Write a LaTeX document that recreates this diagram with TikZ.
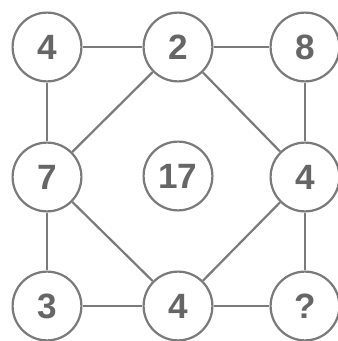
\documentclass[tikz,border=0pt]{standalone}
\usepackage{fontspec}
\setsansfont{Liberation Sans}
\usetikzlibrary{positioning}
\definecolor{ringgray}{HTML}{7A7A7A}
\definecolor{numgray}{HTML}{666666}

\begin{document}
\begin{tikzpicture}[x=0.025cm,y=-0.025cm,line width=0.55mm,
    num/.style={circle,draw=ringgray,fill=white,minimum size=1.72cm,inner sep=0pt,
      text=numgray,font=\fontsize{25}{25}\selectfont\sffamily\bfseries}]
    \useasboundingbox (0,0) rectangle (337,341);
    \node [num] (TL) at (47,47) {4};
    \node [num] (TM) at (178,47) {2};
    \node [num] (TR) at (305,47) {8};
    \node [num] (ML) at (47,177) {7};
    \node [num] (C) at (178,176) {17};
    \node [num] (MR) at (305,177) {4};
    \node [num] (BL) at (47,306) {3};
    \node [num] (BM) at (178,306) {4};
    \node [num] (BR) at (305,306) {?};
    \draw [ringgray] (TL) -- (TM) -- (TR);
    \draw [ringgray] (BL) -- (BM) -- (BR);
    \draw [ringgray] (TL) -- (ML) -- (BL);
    \draw [ringgray] (TR) -- (MR) -- (BR);
    \draw [ringgray] (ML) -- (TM) -- (MR) -- (BM) -- (ML);
\end{tikzpicture}
\end{document}
